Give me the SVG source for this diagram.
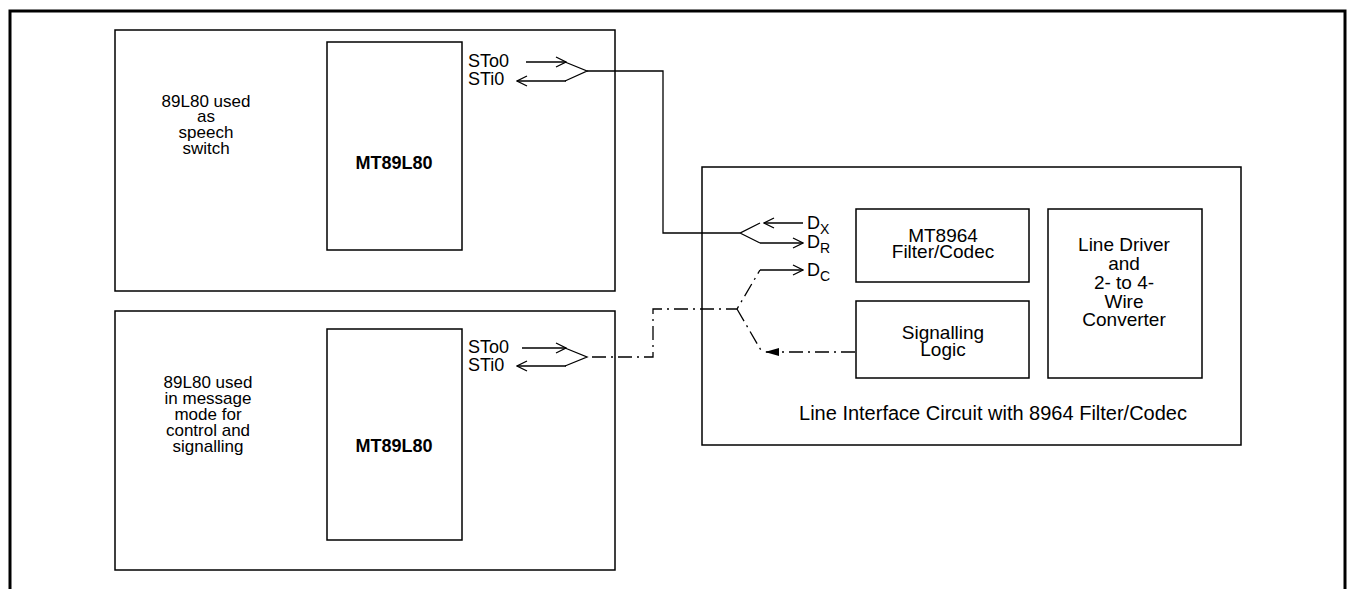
<svg xmlns="http://www.w3.org/2000/svg" width="1351" height="589" viewBox="0 0 1351 589">
<style>
.box{fill:none;stroke:#000;stroke-width:1.5}
.w{fill:none;stroke:#000;stroke-width:1.3}
.dd{fill:none;stroke:#000;stroke-width:1.3;stroke-dasharray:14 5 2 5}
text{font-family:"Liberation Sans",Arial,sans-serif;font-size:18px;fill:#000}
.c{text-anchor:middle}
.b{font-weight:bold}
.l{font-size:17px}
.r{font-size:19px}
.lab{font-size:20px}
.sub{font-size:14px}
</style>
<defs>
<marker id="open" viewBox="0 0 12 12" refX="11" refY="6" markerWidth="12" markerHeight="12" markerUnits="userSpaceOnUse" orient="auto">
<path d="M1,1 L11,6 L1,11" fill="none" stroke="#000" stroke-width="1.3"/>
</marker>
<marker id="solid" viewBox="0 0 14 10" refX="13" refY="5" markerWidth="14" markerHeight="10" markerUnits="userSpaceOnUse" orient="auto">
<path d="M0,1 L14,5 L0,9 Z" fill="#000"/>
</marker>
</defs>
<rect x="10" y="11" width="1335" height="600" fill="none" stroke="#000" stroke-width="3"/>

<g id="switch1">
<rect class="box" x="115" y="30" width="500" height="261"/>
<text class="c l" x="206" y="107">89L80 used</text>
<text class="c l" x="206" y="122">as</text>
<text class="c l" x="206" y="138">speech</text>
<text class="c l" x="206" y="154">switch</text>
</g>
<g id="chip1">
<rect class="box" x="327" y="42" width="135" height="208"/>
<text class="c b" x="394" y="169">MT89L80</text>
</g>
<g id="switch2">
<rect class="box" x="115" y="311" width="500" height="259"/>
<text class="c l" x="208" y="388">89L80 used</text>
<text class="c l" x="208" y="404">in message</text>
<text class="c l" x="208" y="420">mode for</text>
<text class="c l" x="208" y="436">control and</text>
<text class="c l" x="208" y="452">signalling</text>
</g>
<g id="chip2">
<rect class="box" x="327" y="329" width="135" height="211"/>
<text class="c b" x="394" y="452">MT89L80</text>
</g>
<g id="pins1">
<text x="468" y="67">STo0</text>
<text x="468" y="85">STi0</text>
</g>
<g id="pins2">
<text x="468" y="353">STo0</text>
<text x="468" y="371">STi0</text>
</g>

<g id="lic">
<rect class="box" x="702" y="167" width="539" height="278"/>
<text class="c lab" x="993" y="420">Line Interface Circuit with 8964 Filter/Codec</text>
</g>
<g id="codec">
<rect class="box" x="856" y="209" width="173" height="73"/>
<text class="c r" x="943" y="242">MT8964</text>
<text class="c r" x="943" y="258">Filter/Codec</text>
</g>
<g id="driver">
<rect class="box" x="1048" y="209" width="154" height="169"/>
<text class="c r" x="1124" y="251">Line Driver</text>
<text class="c r" x="1124" y="270">and</text>
<text class="c r" x="1124" y="289">2- to 4-</text>
<text class="c r" x="1124" y="308">Wire</text>
<text class="c r" x="1124" y="326">Converter</text>
</g>
<g id="signalling">
<rect class="box" x="856" y="301" width="173" height="77"/>
<text class="c r" x="943" y="339">Signalling</text>
<text class="c r" x="943" y="356">Logic</text>
</g>
<g id="dpins">
<text x="807" y="229">D<tspan class="sub" dy="5">X</tspan></text>
<text x="807" y="248">D<tspan class="sub" dy="5">R</tspan></text>
<text x="807" y="276">D<tspan class="sub" dy="5">C</tspan></text>
</g>

<g id="connectors">
<line class="w" x1="526" y1="62" x2="566" y2="62" marker-end="url(#open)"/>
<line class="w" x1="566" y1="81" x2="517" y2="81" marker-end="url(#open)"/>
<path class="w" d="M565,62 L587,71 L565,81"/>
<path class="w" d="M587,71 H663 V233 H740 L760,223 M740,233 L760,243"/>
<line class="w" x1="803" y1="223" x2="764" y2="223" marker-end="url(#open)"/>
<line class="w" x1="760" y1="243" x2="803" y2="243" marker-end="url(#open)"/>
<line class="w" x1="760" y1="270" x2="803" y2="270" marker-end="url(#open)"/>

<line class="w" x1="522" y1="348" x2="566" y2="348" marker-end="url(#open)"/>
<line class="w" x1="566" y1="366" x2="517" y2="366" marker-end="url(#open)"/>
<path class="w" d="M565,348 L587,357 L565,366"/>
<path class="dd" d="M592,357 H653 V309 H737 L760,270"/>
<path class="dd" d="M737,309 L762,352"/>
<line class="dd" x1="855" y1="352" x2="766" y2="352" marker-end="url(#solid)"/>
</g>
</svg>
